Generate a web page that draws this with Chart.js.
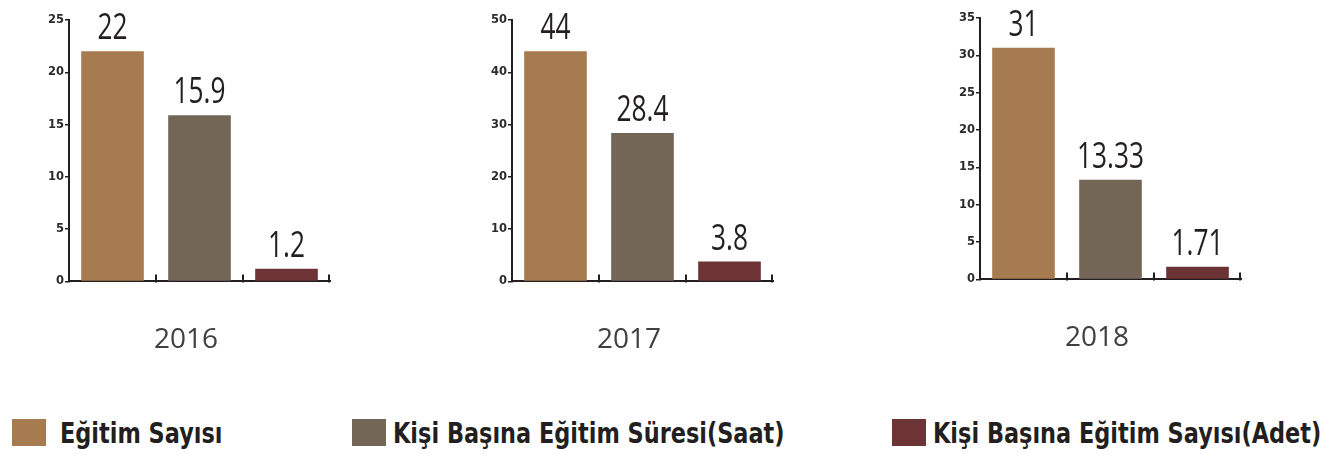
<!DOCTYPE html>
<html>
<head>
<meta charset="utf-8">
<script src="https://cdn.jsdelivr.net/npm/chart.js@4.4.1/dist/chart.umd.min.js"></script>
<style>
  html, body { margin: 0; padding: 0; background: #fff; }
  body { width: 1328px; height: 454px; position: relative; overflow: hidden; }
  .chart { position: absolute; }
  .legend-item { position: absolute; top: 419px; height: 27px; }
  .legend-box { position: absolute; left: 0; top: 0; width: 34px; height: 27px; }
  .legend-text {
    position: absolute; top: 0; white-space: nowrap;
    font: bold 27.5px/28px "DejaVu Sans", sans-serif;
    color: #231f20; transform: scaleX(0.815); transform-origin: left center;
  }
</style>
</head>
<body>
<div class="chart" style="left:42px;top:0px"><canvas id="c0" width="296" height="370"></canvas></div>
<div class="chart" style="left:485px;top:0px"><canvas id="c1" width="296" height="370"></canvas></div>
<div class="chart" style="left:953px;top:-2px"><canvas id="c2" width="296" height="370"></canvas></div>
<div id="legend"></div>
<script>
const years        = [ '2016', '2017', '2018' ];
const seriesNames  = [ 'Eğitim Sayısı', 'Kişi Başına Eğitim Süresi(Saat)', 'Kişi Başına Eğitim Sayısı(Adet)' ];
const egitimSayisi = [ 22, 44, 31 ];
const sureSaat     = [ 15.9, 28.4, 13.33 ];
const sayiAdet     = [ 1.2, 3.8, 1.71 ];
const yMax         = [ 25, 50, 35 ];
const yStep        = [ 5, 10, 5 ];

const COLOURS = [ '#a67b50', '#736657', '#6d3436' ];
const INK     = '#231f20';

// legend placement (left of swatch, left of text)
const LEGEND_POS = [ [ 12, 60 ], [ 352, 393 ], [ 892, 933 ] ];

// value labels above each bar, condensed
const valueLabels = {
    id: 'valueLabels',
    afterDatasetsDraw( chart ) {
        const ctx  = chart.ctx;
        const meta = chart.getDatasetMeta( 0 );
        const data = chart.data.datasets[ 0 ].data;
        ctx.save();
        ctx.fillStyle    = INK;
        ctx.font         = '36px "Open Sans"';
        ctx.textAlign    = 'center';
        ctx.textBaseline = 'alphabetic';
        meta.data.forEach( ( bar, i ) => {
            ctx.save();
            ctx.translate( bar.x, bar.y - 12 );
            ctx.scale( 0.73, 1 );
            ctx.fillText( String( data[ i ] ), 0, 0 );
            ctx.restore();
        } );
        ctx.restore();
    },
};

// short upward ticks at the category boundaries on the x axis
const innerTicks = {
    id: 'innerTicks',
    afterDraw( chart ) {
        const x   = chart.scales.x;
        const ctx = chart.ctx;
        const n   = chart.data.labels.length;
        const w   = ( x.right - x.left ) / n;
        ctx.save();
        ctx.strokeStyle = INK;
        ctx.lineWidth   = 2;
        ctx.beginPath();
        for ( let k = 1; k <= n; k++ ) {
            const px = x.left + k * w - ( k === n ? 1 : 0 );
            ctx.moveTo( px, x.top + 1 );
            ctx.lineTo( px, x.top - 7 );
        }
        ctx.stroke();
        ctx.restore();
    },
};

years.forEach( ( year, i ) => {
    new Chart( document.getElementById( 'c' + i ), {
        type: 'bar',
        data: {
            labels: seriesNames,
            datasets: [ {
                data: [ egitimSayisi[ i ], sureSaat[ i ], sayiAdet[ i ] ],
                backgroundColor: COLOURS,
                categoryPercentage: 1,
                barPercentage: 0.72,
            } ],
        },
        options: {
            responsive: false,
            animation: false,
            events: [],
            layout: { padding: { top: 20, right: 8, bottom: 0, left: 0 } },
            plugins: {
                legend: { display: false },
                tooltip: { enabled: false },
                title: {
                    display: true,
                    position: 'bottom',
                    text: year,
                    color: '#404040',
                    font: { family: '"Open Sans"', size: 28, weight: 'normal' },
                    padding: { top: 42, bottom: 13 },
                },
            },
            scales: {
                x: {
                    ticks: { display: false },
                    grid: { display: false, drawTicks: false },
                    border: { display: true, color: INK, width: 2 },
                    afterFit: ( s ) => { s.height = 0; },
                },
                y: {
                    min: 0,
                    max: yMax[ i ],
                    ticks: {
                        stepSize: yStep[ i ],
                        color: '#2b2b2b',
                        padding: 1,
                        font: { family: '"DejaVu Sans"', size: 11.5, weight: 'bold' },
                    },
                    grid: { drawOnChartArea: false, tickLength: 4, color: INK, lineWidth: 1.5 },
                    border: { display: true, color: INK, width: 2 },
                    afterFit: ( s ) => { s.width = 27; },
                },
            },
        },
        plugins: [ valueLabels, innerTicks ],
    } );
} );

// legend
const legend = document.getElementById( 'legend' );
seriesNames.forEach( ( name, i ) => {
    const [ boxLeft, textLeft ] = LEGEND_POS[ i ];
    const item = document.createElement( 'div' );
    item.className = 'legend-item';
    item.style.left = boxLeft + 'px';
    item.innerHTML = `<div class="legend-box" style="background:${ COLOURS[ i ] }"></div>` +
        `<span class="legend-text" style="left:${ textLeft - boxLeft }px">${ name }</span>`;
    legend.appendChild( item );
} );
</script>
</body>
</html>
